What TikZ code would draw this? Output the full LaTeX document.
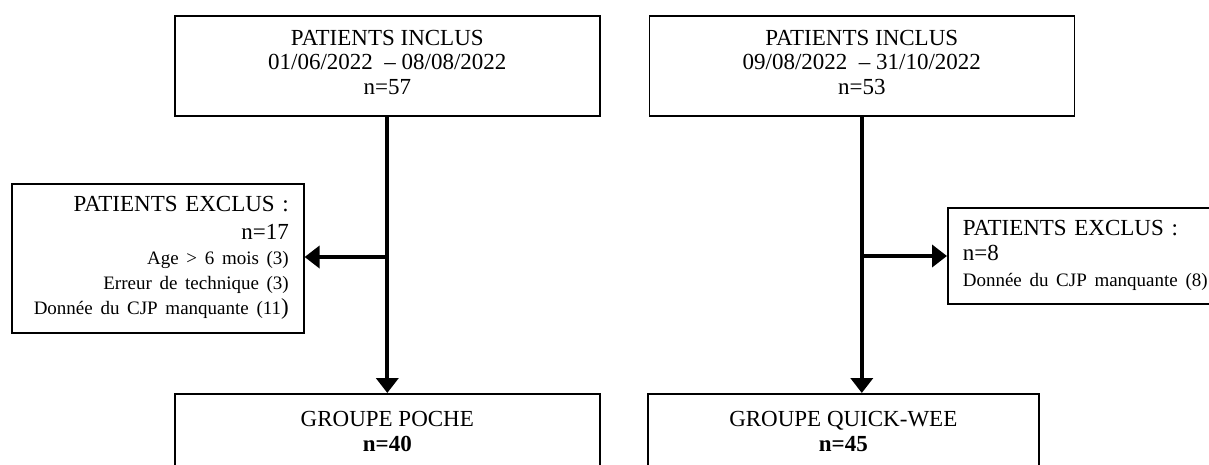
\documentclass[tikz,border=0pt]{standalone}
\usepackage{fontspec}
\setmainfont{Liberation Serif}
\usetikzlibrary{arrows.meta}
\newcommand{\bigf}{\fontsize{23}{25}\selectfont}
\newcommand{\smallf}{\fontsize{19}{25}\selectfont}
\begin{document}
\begin{tikzpicture}[x=1pt,y=-1pt,
  box/.style={draw, line width=1.6pt, inner sep=0pt, font=\bigf, align=center},
  conn/.style={line width=4pt},
  arr/.style={conn, -{Triangle[width=22pt,length=15pt]}}]
\useasboundingbox (0,0) rectangle (1209,464);
% top boxes
\node[box, anchor=north west, minimum width=425pt, minimum height=100pt] (in1) at (174,15)
  {PATIENTS INCLUS\\[-0.5pt]01/06/2022 \ – 08/08/2022\\[-0.5pt]n=57\\[-18pt]\mbox{}};
\node[box, anchor=north west, minimum width=425pt, minimum height=100pt] (in2) at (648.5,15)
  {PATIENTS INCLUS\\[-0.5pt]09/08/2022 \ – 31/10/2022\\[-0.5pt]n=53\\[-18pt]\mbox{}};
% bottom boxes
\node[box, anchor=north west, minimum width=425pt, minimum height=76pt] (g1) at (174,393)
  {GROUPE POCHE\\\textbf{n=40}};
\node[box, anchor=north west, minimum width=391pt, minimum height=76pt] (g2) at (647,393)
  {GROUPE QUICK-WEE\\\textbf{n=45}};
% exclusion boxes
\node[box, anchor=north west, minimum width=292pt, minimum height=149pt, align=right,
      text width=262pt, inner xsep=15pt] (ex1) at (11,183)
  {PATIENTS EXCLUS :\\[3pt]n=17\\{\smallf Age > 6 mois (3)}\\{\smallf Erreur de technique (3)}\\{\smallf Donnée du CJP manquante (11}{\bigf )}};
\node[box, anchor=north west, minimum width=280pt, minimum height=96pt, align=left,
      text width=250pt, inner xsep=15pt] (ex2) at (947,207)
  {PATIENTS EXCLUS :\\n=8\\[1pt]{\smallf Donnée du CJP manquante (8)}};
% connectors
\coordinate (j1) at (386.5,257);
\coordinate (j2) at (861,256);
\draw[arr] (in1.south) -- (g1.north);
\draw[arr] (in2.south) -- (in2.south |- g2.north);
\draw[arr] (j1) -- (j1 -| ex1.east);
\draw[arr] (j2) -- (j2 -| ex2.west);
\end{tikzpicture}
\end{document}
